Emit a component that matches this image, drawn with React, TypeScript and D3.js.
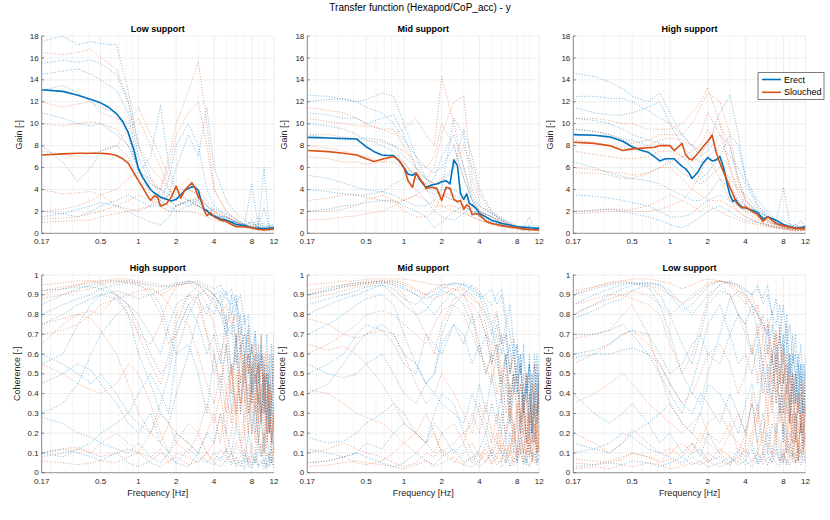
import * as d3 from 'd3';

// ---- frequency grids ----
const meanFreq = [0.17, 0.25, 0.33, 0.42, 0.5, 0.58, 0.67, 0.75, 0.83, 0.92, 1.0, 1.08, 1.17, 1.25, 1.33, 1.42, 1.5, 1.67, 1.83, 2.0,
    2.17, 2.33, 2.5, 2.67, 2.83, 3.0, 3.17, 3.33, 3.5, 3.75, 4.0, 4.5, 5.0, 5.5, 6.0, 7.0, 8.0, 9.0, 10.0, 12.0];
const gainFreq = [0.17, 0.25, 0.33, 0.42, 0.5, 0.67, 0.83, 1, 1.25, 1.5, 1.75, 2, 2.5, 3, 3.5, 4, 5, 6, 7, 8, 9, 10, 11, 12];
const cohFreq = [0.17, 0.25, 0.33, 0.42, 0.5, 0.67, 0.83, 1, 1.25, 1.5, 1.75, 2, 2.5, 3, 3.5, 4, 4.5, 5, 5.5, 6, 6.5, 7, 7.5, 8,
    8.5, 9, 9.5, 10, 10.5, 11, 11.5, 12];

const xTicks = [0.17, 0.5, 1, 2, 4, 8, 12];
const xMinor = [0.2, 0.3, 0.4, 0.6, 0.7, 0.8, 0.9, 3, 5, 6, 7, 9, 10];
const gainTicks = [0, 2, 4, 6, 8, 10, 12, 14, 16, 18];
const cohTicks = [0, 0.1, 0.2, 0.3, 0.4, 0.5, 0.6, 0.7, 0.8, 0.9, 1];

// ---- mean gain curves ----
const lowMeanErect = [13.1, 12.95, 12.6, 12.2, 11.9, 11.5, 10.9, 10.2, 9.2, 7.6, 5.9, 5.1, 4.5, 4.0, 3.7, 3.5, 3.3, 3.1, 2.95, 3.1,
    3.5, 3.9, 4.1, 4.25, 4.2, 3.9, 2.9, 2.2, 2.1, 1.7, 1.6, 1.3, 1.2, 1.0, 0.8, 0.7, 0.5, 0.45, 0.4, 0.5];
const lowMeanSlouched = [7.15, 7.25, 7.3, 7.3, 7.3, 7.25, 7.1, 6.8, 6.4, 5.5, 4.8, 4.2, 3.5, 3.0, 3.4, 3.3, 2.5, 2.7, 3.3, 4.3,
    3.2, 3.9, 4.3, 4.6, 4.1, 3.3, 3.0, 2.1, 1.6, 1.9, 1.5, 1.2, 1.1, 0.8, 0.6, 0.6, 0.5, 0.35, 0.3, 0.4];
const midMeanErect = [8.75, 8.7, 8.65, 8.6, 7.9, 7.45, 7.15, 7.1, 7.1, 6.6, 6.0, 5.4, 5.3, 5.5, 5.0, 4.5, 4.2, 4.4, 4.5, 4.7,
    4.8, 4.5, 6.7, 6.2, 3.6, 3.1, 3.6, 2.7, 2.6, 2.3, 1.8, 1.5, 1.2, 1.05, 0.9, 0.75, 0.6, 0.55, 0.5, 0.45];
const midMeanSlouched = [7.55, 7.45, 7.3, 7.15, 6.8, 6.55, 6.75, 6.9, 7.0, 6.6, 6.0, 4.8, 4.2, 5.5, 5.0, 4.6, 4.1, 4.2, 4.1, 3.0,
    4.2, 4.1, 3.1, 2.9, 3.0, 2.2, 2.6, 2.4, 1.7, 1.8, 1.7, 1.1, 0.9, 0.8, 0.7, 0.6, 0.5, 0.4, 0.35, 0.3];
const highMeanErect = [9.0, 8.95, 8.8, 8.4, 7.9, 7.6, 7.4, 7.0, 6.6, 6.8, 6.8, 6.8, 6.4, 6.1, 5.9, 5.5, 5.0, 5.6, 6.4, 6.9,
    6.6, 6.7, 7.0, 6.0, 4.7, 3.5, 2.9, 3.1, 2.7, 2.4, 2.3, 2.1, 1.9, 1.3, 1.5, 1.2, 0.8, 0.6, 0.45, 0.6];
const highMeanSlouched = [8.3, 8.2, 8.0, 7.55, 7.7, 7.75, 7.8, 7.85, 8.0, 8.0, 8.0, 7.55, 7.9, 8.2, 7.2, 6.8, 6.7, 7.3, 7.9, 8.4,
    8.95, 7.4, 6.4, 5.6, 4.9, 4.2, 3.6, 2.9, 2.6, 2.3, 2.4, 2.0, 1.7, 1.1, 1.5, 0.9, 0.7, 0.55, 0.45, 0.45];

// ---- individual gain traces (per subject) ----
const lowGainErect = [
    [17.5, 18, 17.2, 17.5, 17.3, 17.2, 13, 8, 5, 3.5, 3, 2.5, 2.8, 2.5, 2, 1.5, 1.2, 1.0, 0.8, 0.6, 0.9, 0.5, 0.7, 0.4],
    [15.5, 15.8, 15.6, 15.8, 15.5, 14.5, 12, 7, 4.5, 4, 3.5, 3.2, 4, 3.5, 2.5, 1.8, 1.3, 1.0, 0.7, 0.5, 0.4, 0.6, 0.3, 0.5],
    [14.5, 14.8, 15, 14.5, 14, 13, 11, 6, 3.5, 2.5, 2, 2.5, 3, 2.8, 2, 1.5, 1.5, 1.0, 0.6, 1.2, 0.5, 0.4, 0.8, 0.6],
    [13, 13.5, 12.8, 12, 11.5, 11, 9, 5.5, 7, 11.7, 6, 4, 3, 3.2, 2.5, 2, 1.2, 0.9, 0.7, 0.6, 1.5, 0.5, 0.3, 0.8],
    [11, 10.5, 10, 9.8, 10, 9, 8, 6, 4, 3, 5, 8, 10, 8, 4, 2.5, 1.6, 1.1, 0.8, 1, 0.6, 2.3, 0.5, 0.4],
    [8, 6.5, 4.7, 6, 7.5, 8, 7, 5, 4, 3, 2.5, 2, 2.5, 3, 2, 2.2, 1.8, 1.3, 0.8, 4.5, 0.6, 6, 0.5, 0.9],
    [2, 1.8, 1.5, 2, 2.5, 3, 3.5, 3, 2.5, 2.5, 3.5, 6, 9, 7, 11.5, 6, 3, 1.8, 1.2, 0.8, 0.6, 1, 0.5, 0.4],
    [1.5, 1.8, 2.2, 2.5, 2.8, 2.5, 2, 1.5, 1, 0.8, 1.5, 2.5, 3, 2.5, 2, 1.5, 1.5, 1.0, 0.6, 0.5, 0.8, 0.4, 0.6, 0.5],
];
const lowGainSlouched = [
    [16.5, 16.3, 16.5, 16.8, 16, 15, 12, 8, 6, 5, 4, 3.5, 3, 2.5, 2, 1.5, 1.2, 0.8, 0.6, 0.5, 0.4, 0.6, 0.3, 0.4],
    [12, 11.5, 11.8, 12, 11, 10.5, 10, 11.5, 9, 7, 5, 4, 4, 3.5, 2.5, 2, 1.5, 1, 0.7, 0.5, 0.4, 0.3, 0.5, 0.4],
    [10, 9.8, 10, 10.2, 10, 9.5, 8, 6, 4.5, 4, 6, 9, 11, 12, 8, 4, 2, 1.2, 0.8, 0.6, 0.5, 0.4, 0.3, 0.5],
    [7.5, 7.2, 7, 7.3, 7.5, 8, 9.5, 10.5, 8, 6, 4, 3, 2.5, 2.5, 2, 1.5, 1, 0.8, 0.5, 0.4, 0.3, 0.4, 0.3, 0.2],
    [4, 3.6, 3.7, 3.8, 3.5, 2.5, 2.2, 2, 2.5, 4, 7, 10, 13, 15.7, 10, 4, 2, 1.3, 0.8, 0.6, 0.5, 0.4, 0.4, 0.3],
    [2, 2.2, 2.5, 3, 3.5, 4, 5, 5.5, 5, 4, 3, 2.5, 3, 3, 2, 1.5, 1.0, 0.8, 0.6, 0.5, 0.6, 0.3, 0.4, 0.5],
    [1.3, 1.4, 1.5, 1.8, 2, 2.5, 3, 3.5, 3, 2.5, 2, 2, 2, 1.8, 1.5, 1.2, 1.0, 0.7, 0.5, 0.4, 0.5, 0.3, 0.3, 0.4],
    [1, 1.1, 1.2, 1.2, 1.5, 1.8, 2, 2.2, 2.5, 3, 3.5, 4, 5, 4, 3, 2, 1.5, 1, 0.7, 0.5, 0.4, 0.3, 0.5, 0.3],
];
const midGainErect = [
    [12.6, 12.5, 12.2, 12, 12.2, 12.8, 12.5, 10, 7, 5, 4, 3.5, 3, 2.5, 2, 1.5, 1.0, 0.8, 0.6, 0.5, 0.7, 0.4, 0.3, 0.5],
    [12, 12.2, 12.3, 12, 11.5, 11, 10, 8.5, 7, 6, 5.5, 6, 8, 5, 3, 2, 1.5, 1.2, 0.8, 0.6, 0.5, 1.5, 0.4, 0.6],
    [11, 10.8, 10.5, 10.5, 10, 10.5, 10.8, 9, 6, 4, 3.5, 4, 10.5, 9, 4, 2.5, 1.8, 1.2, 0.7, 0.5, 0.6, 0.4, 0.3, 0.5],
    [10, 9.8, 9.5, 9, 8.5, 8, 7.5, 6.5, 5, 4.5, 5, 7, 9, 6, 3, 2.5, 1.8, 1.3, 0.9, 0.6, 0.5, 0.4, 0.8, 0.6],
    [9, 8.7, 8.5, 8.6, 8.7, 8.5, 8, 7, 6, 5, 4.5, 4.5, 6, 9.5, 7, 4, 2, 1.4, 1, 0.7, 0.5, 0.6, 0.4, 0.3],
    [5.3, 5, 4.6, 4.2, 4, 3.8, 3.5, 3, 2.5, 2.5, 3, 4, 4, 3.5, 2.5, 2, 1.5, 1, 0.7, 0.5, 0.4, 0.6, 0.3, 0.4],
    [4, 3.8, 3.6, 3.5, 3.5, 3.8, 4.5, 5, 4, 3, 2, 1.5, 1.2, 1.8, 2.5, 1.5, 1.2, 0.8, 0.5, 0.6, 0.4, 0.3, 0.5, 0.4],
    [2, 2.2, 2.5, 2.6, 2.8, 3, 3, 2.5, 2, 1.5, 0.5, 1, 2, 2.5, 2, 1.8, 1.0, 0.7, 0.6, 0.5, 0.4, 0.8, 0.3, 0.2],
];
const midGainSlouched = [
    [11.5, 11.2, 11, 10.5, 10, 9.5, 9, 9.5, 10.5, 9, 8, 14.3, 10, 6, 3.5, 2, 1.5, 1, 0.7, 0.5, 0.4, 0.6, 0.3, 0.4],
    [10.5, 10.2, 10, 9.8, 9.8, 9.5, 9.5, 8, 6, 5, 6, 9, 12, 12.5, 5, 3, 1.8, 1.2, 0.8, 0.6, 0.5, 0.4, 0.3, 0.5],
    [9, 9, 8.8, 8.6, 8.5, 8.3, 8, 7.5, 6.5, 6, 7, 10, 8, 5, 3, 2, 1.2, 0.9, 0.6, 0.5, 0.4, 0.3, 0.4, 0.3],
    [8, 7.8, 7.5, 7.2, 7, 6.5, 6.5, 6, 5.5, 5, 4.5, 5, 6, 8, 6, 3.5, 2, 1.2, 0.8, 0.5, 0.4, 0.5, 0.3, 0.2],
    [7, 6.8, 6.5, 6.5, 6.3, 6.5, 7, 6.5, 5, 4.5, 4, 3.5, 3.5, 3, 2.5, 2, 1.5, 1, 0.7, 0.5, 0.4, 0.3, 0.3, 0.4],
    [3, 3.2, 3.5, 3.5, 3.3, 3, 2.8, 3, 3.5, 3, 2.5, 2.5, 2.5, 2, 1.5, 1.2, 0.9, 0.6, 0.5, 0.4, 0.3, 0.4, 0.3, 0.3],
    [2, 2, 2.2, 2.5, 3, 3.5, 3, 2, 1.5, 1.5, 2, 3.5, 3, 2.5, 2, 1.5, 1.0, 0.7, 0.5, 0.4, 0.3, 0.3, 0.4, 0.2],
    [1.2, 1.3, 1.5, 1.6, 1.8, 2, 2.5, 3, 3.5, 4, 3, 2.5, 2, 1.8, 1.5, 1.2, 0.8, 0.6, 0.5, 0.4, 0.3, 0.2, 0.3, 0.2],
];
const highGainErect = [
    [14.6, 14.3, 13.8, 13.2, 12.5, 12, 12.8, 11, 9, 8, 7, 7.5, 9, 8, 5, 3, 2, 1.5, 1, 0.7, 0.5, 0.8, 0.5, 0.6],
    [12.5, 12.5, 12.3, 12.3, 12, 11.2, 10.5, 10, 9, 8, 7.5, 8, 11, 12.6, 9, 5, 2.5, 1.5, 1, 1.2, 0.8, 0.6, 0.5, 0.7],
    [11.5, 11, 10.8, 10.8, 11, 11.5, 12, 10, 8, 7, 6.5, 7, 8, 7, 6, 4.5, 2.5, 1.7, 1.1, 0.8, 0.6, 0.5, 1.2, 0.6],
    [10.5, 10.3, 10, 9.5, 9, 8.5, 8.2, 8, 7, 6, 5, 5.5, 7, 9, 8, 5, 3, 2, 1.2, 0.8, 0.7, 0.5, 0.6, 0.4],
    [9.5, 9.3, 9, 8.6, 8.5, 8, 7, 6.5, 5.5, 5, 4.5, 5, 6, 5, 4, 3.5, 2.2, 1.5, 1, 4.2, 0.8, 0.6, 0.5, 0.5],
    [6.5, 6, 5.5, 5.2, 5, 4.8, 4.5, 4, 3.5, 3, 3, 3.5, 5, 4, 3, 2.5, 2, 1.5, 1.0, 0.7, 0.5, 0.8, 0.4, 0.5],
    [3.5, 3.4, 3.2, 3, 2.8, 2.5, 2, 1.5, 1.5, 1.8, 2.5, 3, 3.5, 3, 2.5, 2, 1.8, 1.2, 0.8, 0.6, 0.7, 0.5, 0.4, 0.6],
    [2, 2.1, 2.2, 2, 1.8, 1.5, 1.2, 0.8, 0.5, 1, 1.5, 2, 2.5, 2, 1.5, 1.2, 1, 0.8, 0.6, 0.5, 0.4, 0.5, 0.3, 0.4],
];
const highGainSlouched = [
    [10.5, 10.5, 10.3, 10, 10, 9.5, 9.5, 9.5, 10, 11, 12, 13.3, 10, 6, 3.5, 2.5, 1.5, 1, 0.8, 0.6, 0.5, 0.4, 0.3, 0.4],
    [9.5, 9.3, 9, 8.5, 8.2, 8.5, 9, 9, 9, 10, 11.5, 12.8, 12, 9, 5, 3, 1.8, 1.2, 0.8, 0.6, 0.5, 0.4, 0.5, 0.3],
    [8.5, 8.3, 8, 7.8, 7.6, 8, 8.5, 8.7, 8.5, 8, 9, 11, 9, 6, 4, 2.5, 1.5, 1, 0.7, 0.5, 0.4, 0.6, 0.3, 0.4],
    [7.5, 7.2, 7, 6.8, 6.8, 7, 7.5, 7.5, 7, 6.5, 7, 8.5, 10, 8, 4.5, 3, 1.8, 1.2, 0.8, 0.6, 0.4, 0.3, 0.4, 0.3],
    [6, 5.8, 5.6, 5.5, 5.3, 5.5, 6, 6.5, 7, 7.5, 8, 9.5, 7, 4.5, 3, 2, 1.2, 0.8, 0.6, 0.5, 0.4, 0.3, 0.3, 0.2],
    [5.5, 5.5, 5.3, 5, 5, 5.5, 6, 6, 5, 4, 3.5, 3, 3, 2.5, 2, 1.5, 1.0, 0.7, 0.5, 0.4, 0.3, 0.3, 0.4, 0.3],
    [2, 2.1, 2.2, 2.2, 2, 2, 2.2, 2.5, 3, 4, 5.5, 7, 5, 3, 2, 1.5, 1.0, 0.7, 0.5, 0.4, 0.3, 0.3, 0.2, 0.3],
    [1.8, 1.9, 2, 2, 2.2, 2.5, 3, 3.5, 3, 2.5, 2, 2.5, 2, 1.5, 1.2, 1, 0.8, 0.6, 0.5, 0.4, 0.3, 0.2, 0.3, 0.2],
];

// ---- individual coherence traces ----
const highCohErect = [
    [0.85, 0.9, 0.93, 0.95, 0.96, 0.97, 0.97, 0.96, 0.95, 0.94, 0.95, 0.96, 0.97, 0.95, 0.93, 0.9, 0.92, 0.88, 0.85, 0.9, 0.7, 0.8, 0.5, 0.65, 0.4, 0.55, 0.3, 0.5, 0.25, 0.6, 0.3, 0.45],
    [0.8, 0.85, 0.88, 0.9, 0.93, 0.95, 0.96, 0.95, 0.92, 0.85, 0.7, 0.6, 0.8, 0.9, 0.93, 0.9, 0.85, 0.92, 0.8, 0.88, 0.75, 0.6, 0.72, 0.45, 0.6, 0.35, 0.7, 0.3, 0.55, 0.2, 0.4, 0.15],
    [0.55, 0.6, 0.75, 0.85, 0.9, 0.88, 0.8, 0.6, 0.45, 0.3, 0.25, 0.4, 0.6, 0.8, 0.85, 0.8, 0.9, 0.75, 0.7, 0.85, 0.6, 0.7, 0.65, 0.4, 0.55, 0.6, 0.3, 0.45, 0.5, 0.2, 0.35, 0.7],
    [0.6, 0.55, 0.5, 0.45, 0.5, 0.4, 0.3, 0.25, 0.2, 0.35, 0.5, 0.7, 0.85, 0.75, 0.6, 0.7, 0.55, 0.8, 0.5, 0.65, 0.3, 0.5, 0.4, 0.2, 0.35, 0.15, 0.3, 0.1, 0.25, 0.05, 0.2, 0.1],
    [0.45, 0.5, 0.55, 0.52, 0.45, 0.35, 0.25, 0.2, 0.3, 0.15, 0.1, 0.2, 0.15, 0.1, 0.2, 0.15, 0.3, 0.2, 0.1, 0.25, 0.15, 0.05, 0.2, 0.1, 0.05, 0.15, 0.08, 0.2, 0.03, 0.1, 0.05, 0.12],
    [0.28, 0.25, 0.2, 0.18, 0.15, 0.12, 0.1, 0.15, 0.08, 0.05, 0.1, 0.05, 0.12, 0.08, 0.05, 0.1, 0.06, 0.12, 0.04, 0.08, 0.03, 0.1, 0.05, 0.02, 0.08, 0.04, 0.06, 0.02, 0.05, 0.03, 0.06, 0.02],
    [0.1, 0.12, 0.1, 0.08, 0.06, 0.1, 0.05, 0.03, 0.06, 0.1, 0.08, 0.05, 0.03, 0.1, 0.06, 0.04, 0.08, 0.05, 0.1, 0.03, 0.06, 0.02, 0.08, 0.04, 0.1, 0.03, 0.05, 0.07, 0.02, 0.04, 0.08, 0.03],
    [0.92, 0.93, 0.94, 0.94, 0.93, 0.9, 0.85, 0.75, 0.6, 0.5, 0.55, 0.75, 0.9, 0.95, 0.9, 0.85, 0.8, 0.7, 0.75, 0.55, 0.65, 0.5, 0.6, 0.35, 0.5, 0.4, 0.25, 0.45, 0.3, 0.35, 0.15, 0.3],
    [0.75, 0.8, 0.85, 0.88, 0.9, 0.92, 0.9, 0.88, 0.9, 0.92, 0.94, 0.95, 0.96, 0.97, 0.95, 0.93, 0.95, 0.9, 0.93, 0.85, 0.9, 0.75, 0.8, 0.6, 0.72, 0.5, 0.65, 0.45, 0.7, 0.35, 0.55, 0.6],
    [0.3, 0.35, 0.45, 0.6, 0.7, 0.8, 0.85, 0.8, 0.7, 0.6, 0.75, 0.85, 0.9, 0.88, 0.8, 0.9, 0.85, 0.7, 0.9, 0.65, 0.8, 0.55, 0.75, 0.5, 0.7, 0.45, 0.6, 0.55, 0.35, 0.5, 0.65, 0.25],
    [0.1, 0.08, 0.12, 0.15, 0.2, 0.25, 0.3, 0.4, 0.5, 0.4, 0.3, 0.6, 0.65, 0.5, 0.3, 0.6, 0.4, 0.65, 0.3, 0.7, 0.45, 0.6, 0.3, 0.55, 0.2, 0.45, 0.6, 0.3, 0.5, 0.2, 0.4, 0.55],
];
const highCohSlouched = [
    [0.9, 0.93, 0.95, 0.96, 0.97, 0.98, 0.98, 0.97, 0.96, 0.95, 0.94, 0.95, 0.96, 0.92, 0.85, 0.75, 0.6, 0.7, 0.5, 0.6, 0.35, 0.55, 0.3, 0.45, 0.6, 0.25, 0.4, 0.5, 0.2, 0.35, 0.15, 0.3],
    [0.92, 0.94, 0.95, 0.97, 0.97, 0.97, 0.96, 0.95, 0.9, 0.8, 0.65, 0.7, 0.85, 0.9, 0.7, 0.5, 0.6, 0.4, 0.55, 0.3, 0.5, 0.2, 0.45, 0.35, 0.15, 0.4, 0.25, 0.1, 0.35, 0.2, 0.3, 0.1],
    [0.65, 0.75, 0.8, 0.82, 0.8, 0.9, 0.85, 0.7, 0.55, 0.45, 0.6, 0.8, 0.9, 0.85, 0.7, 0.6, 0.45, 0.65, 0.4, 0.7, 0.3, 0.55, 0.6, 0.35, 0.5, 0.3, 0.45, 0.2, 0.4, 0.5, 0.25, 0.35],
    [0.75, 0.78, 0.8, 0.78, 0.72, 0.6, 0.45, 0.3, 0.2, 0.15, 0.25, 0.2, 0.15, 0.1, 0.2, 0.3, 0.15, 0.4, 0.25, 0.5, 0.35, 0.6, 0.2, 0.45, 0.3, 0.55, 0.25, 0.4, 0.15, 0.3, 0.2, 0.25],
    [0.55, 0.5, 0.45, 0.42, 0.4, 0.45, 0.55, 0.5, 0.35, 0.2, 0.1, 0.15, 0.25, 0.2, 0.1, 0.15, 0.3, 0.1, 0.2, 0.4, 0.15, 0.3, 0.55, 0.2, 0.4, 0.15, 0.35, 0.6, 0.25, 0.45, 0.1, 0.3],
    [0.1, 0.12, 0.13, 0.1, 0.08, 0.1, 0.12, 0.1, 0.08, 0.12, 0.05, 0.1, 0.08, 0.05, 0.1, 0.06, 0.12, 0.08, 0.05, 0.15, 0.1, 0.2, 0.05, 0.15, 0.1, 0.25, 0.08, 0.2, 0.12, 0.3, 0.05, 0.15],
    [0.06, 0.05, 0.04, 0.05, 0.06, 0.05, 0.08, 0.1, 0.05, 0.03, 0.06, 0.08, 0.04, 0.06, 0.1, 0.05, 0.03, 0.07, 0.1, 0.04, 0.08, 0.12, 0.03, 0.09, 0.05, 0.1, 0.15, 0.04, 0.1, 0.06, 0.12, 0.05],
    [0.95, 0.96, 0.97, 0.97, 0.96, 0.9, 0.8, 0.7, 0.65, 0.75, 0.88, 0.94, 0.96, 0.95, 0.9, 0.88, 0.8, 0.85, 0.75, 0.8, 0.65, 0.7, 0.5, 0.65, 0.45, 0.55, 0.7, 0.3, 0.5, 0.4, 0.2, 0.35],
    [0.88, 0.9, 0.92, 0.93, 0.95, 0.96, 0.97, 0.96, 0.94, 0.9, 0.92, 0.95, 0.97, 0.96, 0.94, 0.9, 0.85, 0.75, 0.8, 0.65, 0.7, 0.45, 0.6, 0.5, 0.65, 0.35, 0.55, 0.4, 0.6, 0.3, 0.45, 0.5],
    [0.7, 0.72, 0.75, 0.8, 0.85, 0.88, 0.9, 0.92, 0.93, 0.9, 0.85, 0.8, 0.75, 0.6, 0.45, 0.35, 0.5, 0.3, 0.55, 0.25, 0.6, 0.4, 0.2, 0.5, 0.35, 0.65, 0.3, 0.55, 0.2, 0.45, 0.35, 0.6],
    [0.08, 0.1, 0.12, 0.1, 0.15, 0.2, 0.15, 0.1, 0.2, 0.3, 0.25, 0.15, 0.1, 0.2, 0.35, 0.25, 0.4, 0.2, 0.5, 0.3, 0.65, 0.35, 0.7, 0.4, 0.55, 0.25, 0.6, 0.35, 0.5, 0.3, 0.6, 0.4],
];
const midCohErect = [
    [0.9, 0.93, 0.95, 0.96, 0.96, 0.96, 0.95, 0.93, 0.9, 0.88, 0.9, 0.93, 0.96, 0.95, 0.93, 0.9, 0.88, 0.85, 0.9, 0.93, 0.8, 0.7, 0.6, 0.65, 0.5, 0.6, 0.4, 0.55, 0.3, 0.45, 0.6, 0.35],
    [0.8, 0.85, 0.88, 0.9, 0.92, 0.95, 0.9, 0.85, 0.8, 0.82, 0.88, 0.92, 0.9, 0.85, 0.75, 0.8, 0.7, 0.65, 0.75, 0.6, 0.7, 0.5, 0.6, 0.45, 0.55, 0.3, 0.5, 0.4, 0.2, 0.55, 0.3, 0.4],
    [0.5, 0.55, 0.6, 0.7, 0.75, 0.72, 0.65, 0.55, 0.5, 0.7, 0.65, 0.6, 0.75, 0.65, 0.8, 0.6, 0.7, 0.55, 0.65, 0.4, 0.6, 0.3, 0.5, 0.65, 0.25, 0.45, 0.35, 0.6, 0.2, 0.4, 0.3, 0.5],
    [0.55, 0.5, 0.48, 0.5, 0.55, 0.6, 0.5, 0.4, 0.35, 0.45, 0.4, 0.35, 0.3, 0.25, 0.4, 0.3, 0.2, 0.35, 0.25, 0.4, 0.15, 0.3, 0.25, 0.1, 0.3, 0.2, 0.05, 0.25, 0.15, 0.3, 0.1, 0.2],
    [0.18, 0.15, 0.16, 0.2, 0.25, 0.3, 0.35, 0.3, 0.2, 0.15, 0.25, 0.2, 0.1, 0.15, 0.05, 0.12, 0.2, 0.08, 0.15, 0.1, 0.05, 0.2, 0.12, 0.06, 0.18, 0.1, 0.04, 0.15, 0.08, 0.2, 0.05, 0.1],
    [0.05, 0.06, 0.08, 0.1, 0.08, 0.05, 0.03, 0.05, 0.1, 0.06, 0.04, 0.08, 0.12, 0.05, 0.08, 0.03, 0.06, 0.1, 0.04, 0.07, 0.12, 0.03, 0.08, 0.05, 0.1, 0.04, 0.07, 0.03, 0.06, 0.1, 0.04, 0.08],
    [0.7, 0.75, 0.8, 0.85, 0.88, 0.9, 0.85, 0.7, 0.55, 0.45, 0.5, 0.7, 0.85, 0.9, 0.95, 0.92, 0.85, 0.75, 0.6, 0.7, 0.55, 0.65, 0.4, 0.55, 0.6, 0.35, 0.5, 0.25, 0.45, 0.3, 0.55, 0.2],
    [0.9, 0.92, 0.94, 0.95, 0.96, 0.97, 0.96, 0.94, 0.9, 0.85, 0.8, 0.85, 0.92, 0.96, 0.94, 0.9, 0.8, 0.7, 0.8, 0.65, 0.75, 0.5, 0.68, 0.4, 0.6, 0.3, 0.45, 0.55, 0.2, 0.4, 0.5, 0.3],
    [0.85, 0.88, 0.9, 0.92, 0.94, 0.95, 0.93, 0.88, 0.85, 0.9, 0.93, 0.95, 0.96, 0.95, 0.92, 0.88, 0.9, 0.93, 0.85, 0.9, 0.75, 0.85, 0.65, 0.6, 0.5, 0.65, 0.4, 0.55, 0.45, 0.6, 0.35, 0.5],
    [0.4, 0.45, 0.55, 0.65, 0.7, 0.75, 0.7, 0.6, 0.55, 0.45, 0.5, 0.65, 0.75, 0.7, 0.55, 0.65, 0.5, 0.6, 0.55, 0.45, 0.6, 0.35, 0.5, 0.4, 0.55, 0.3, 0.45, 0.2, 0.5, 0.35, 0.25, 0.6],
    [0.12, 0.1, 0.08, 0.1, 0.15, 0.12, 0.2, 0.25, 0.2, 0.15, 0.3, 0.4, 0.35, 0.2, 0.25, 0.45, 0.3, 0.5, 0.35, 0.2, 0.45, 0.25, 0.4, 0.5, 0.2, 0.35, 0.15, 0.4, 0.25, 0.3, 0.45, 0.2],
];
const midCohSlouched = [
    [0.95, 0.96, 0.97, 0.97, 0.98, 0.98, 0.98, 0.98, 0.97, 0.96, 0.95, 0.95, 0.95, 0.93, 0.9, 0.85, 0.75, 0.6, 0.7, 0.5, 0.6, 0.4, 0.5, 0.3, 0.45, 0.2, 0.35, 0.5, 0.15, 0.3, 0.2, 0.35],
    [0.92, 0.94, 0.95, 0.96, 0.97, 0.97, 0.95, 0.9, 0.8, 0.7, 0.6, 0.75, 0.88, 0.9, 0.8, 0.65, 0.5, 0.6, 0.4, 0.5, 0.3, 0.45, 0.2, 0.35, 0.25, 0.4, 0.1, 0.3, 0.2, 0.35, 0.1, 0.25],
    [0.78, 0.75, 0.7, 0.68, 0.7, 0.72, 0.7, 0.6, 0.45, 0.35, 0.4, 0.5, 0.4, 0.3, 0.2, 0.35, 0.25, 0.15, 0.3, 0.1, 0.2, 0.35, 0.15, 0.25, 0.1, 0.3, 0.15, 0.2, 0.05, 0.25, 0.1, 0.15],
    [0.65, 0.62, 0.64, 0.6, 0.55, 0.45, 0.35, 0.25, 0.2, 0.3, 0.2, 0.1, 0.15, 0.2, 0.1, 0.05, 0.15, 0.1, 0.2, 0.05, 0.15, 0.1, 0.25, 0.05, 0.2, 0.1, 0.3, 0.08, 0.15, 0.25, 0.05, 0.2],
    [0.42, 0.4, 0.35, 0.3, 0.28, 0.25, 0.2, 0.15, 0.1, 0.15, 0.2, 0.1, 0.05, 0.1, 0.15, 0.08, 0.12, 0.05, 0.1, 0.2, 0.08, 0.15, 0.05, 0.12, 0.3, 0.1, 0.2, 0.08, 0.25, 0.15, 0.35, 0.1],
    [0.1, 0.12, 0.15, 0.12, 0.1, 0.08, 0.05, 0.03, 0.05, 0.1, 0.08, 0.12, 0.06, 0.04, 0.08, 0.1, 0.05, 0.12, 0.07, 0.15, 0.05, 0.1, 0.2, 0.08, 0.15, 0.05, 0.12, 0.2, 0.1, 0.05, 0.15, 0.1],
    [0.03, 0.04, 0.05, 0.06, 0.05, 0.04, 0.03, 0.02, 0.04, 0.06, 0.03, 0.05, 0.08, 0.04, 0.03, 0.06, 0.1, 0.04, 0.08, 0.03, 0.06, 0.1, 0.04, 0.07, 0.12, 0.05, 0.1, 0.15, 0.06, 0.12, 0.2, 0.08],
    [0.88, 0.9, 0.92, 0.94, 0.95, 0.96, 0.97, 0.96, 0.93, 0.9, 0.88, 0.9, 0.93, 0.92, 0.88, 0.85, 0.8, 0.75, 0.82, 0.65, 0.7, 0.5, 0.6, 0.45, 0.3, 0.5, 0.35, 0.25, 0.45, 0.15, 0.3, 0.4],
    [0.9, 0.92, 0.94, 0.95, 0.96, 0.97, 0.97, 0.95, 0.92, 0.9, 0.92, 0.94, 0.93, 0.9, 0.85, 0.8, 0.7, 0.55, 0.65, 0.45, 0.55, 0.35, 0.5, 0.25, 0.45, 0.3, 0.2, 0.4, 0.25, 0.35, 0.15, 0.45],
    [0.6, 0.65, 0.7, 0.75, 0.8, 0.82, 0.8, 0.75, 0.7, 0.65, 0.75, 0.82, 0.85, 0.8, 0.7, 0.6, 0.55, 0.45, 0.6, 0.35, 0.5, 0.25, 0.45, 0.55, 0.2, 0.35, 0.5, 0.15, 0.4, 0.55, 0.25, 0.45],
    [0.05, 0.06, 0.08, 0.05, 0.04, 0.06, 0.1, 0.15, 0.2, 0.15, 0.1, 0.2, 0.25, 0.15, 0.3, 0.2, 0.35, 0.2, 0.15, 0.3, 0.2, 0.35, 0.1, 0.3, 0.2, 0.4, 0.15, 0.35, 0.25, 0.45, 0.2, 0.55],
];
const lowCohErect = [
    [0.85, 0.9, 0.93, 0.95, 0.96, 0.96, 0.95, 0.9, 0.82, 0.85, 0.9, 0.94, 0.97, 0.96, 0.94, 0.92, 0.9, 0.93, 0.88, 0.95, 0.8, 0.75, 0.85, 0.6, 0.8, 0.5, 0.7, 0.4, 0.6, 0.3, 0.55, 0.45],
    [0.78, 0.82, 0.86, 0.88, 0.92, 0.95, 0.9, 0.8, 0.65, 0.55, 0.7, 0.85, 0.92, 0.9, 0.8, 0.75, 0.85, 0.7, 0.8, 0.6, 0.75, 0.5, 0.7, 0.45, 0.65, 0.35, 0.55, 0.6, 0.3, 0.5, 0.4, 0.55],
    [0.7, 0.7, 0.72, 0.75, 0.7, 0.6, 0.5, 0.4, 0.3, 0.45, 0.6, 0.75, 0.85, 0.7, 0.55, 0.6, 0.5, 0.65, 0.4, 0.55, 0.35, 0.6, 0.3, 0.5, 0.55, 0.25, 0.45, 0.35, 0.5, 0.2, 0.4, 0.3],
    [0.58, 0.6, 0.6, 0.62, 0.63, 0.6, 0.55, 0.45, 0.35, 0.3, 0.4, 0.35, 0.25, 0.4, 0.3, 0.2, 0.35, 0.15, 0.3, 0.1, 0.25, 0.2, 0.4, 0.15, 0.35, 0.25, 0.5, 0.2, 0.4, 0.3, 0.15, 0.35],
    [0.4, 0.3, 0.25, 0.3, 0.35, 0.25, 0.15, 0.2, 0.1, 0.15, 0.08, 0.2, 0.1, 0.05, 0.12, 0.08, 0.15, 0.05, 0.1, 0.2, 0.08, 0.15, 0.05, 0.25, 0.1, 0.2, 0.15, 0.3, 0.1, 0.25, 0.12, 0.2],
    [0.1, 0.12, 0.15, 0.2, 0.18, 0.12, 0.1, 0.08, 0.05, 0.1, 0.12, 0.06, 0.08, 0.04, 0.1, 0.06, 0.12, 0.04, 0.08, 0.1, 0.05, 0.12, 0.06, 0.1, 0.04, 0.15, 0.08, 0.1, 0.06, 0.12, 0.05, 0.08],
    [0.03, 0.04, 0.05, 0.04, 0.06, 0.05, 0.03, 0.05, 0.08, 0.04, 0.06, 0.03, 0.05, 0.08, 0.04, 0.06, 0.03, 0.07, 0.1, 0.04, 0.08, 0.05, 0.03, 0.09, 0.06, 0.04, 0.1, 0.05, 0.08, 0.04, 0.1, 0.06],
    [0.9, 0.93, 0.95, 0.96, 0.96, 0.94, 0.85, 0.7, 0.5, 0.4, 0.35, 0.5, 0.7, 0.88, 0.92, 0.9, 0.85, 0.8, 0.75, 0.7, 0.82, 0.6, 0.7, 0.55, 0.75, 0.45, 0.6, 0.5, 0.35, 0.55, 0.25, 0.45],
    [0.8, 0.85, 0.9, 0.93, 0.95, 0.96, 0.95, 0.92, 0.85, 0.8, 0.85, 0.9, 0.95, 0.97, 0.95, 0.93, 0.9, 0.95, 0.85, 0.9, 0.8, 0.88, 0.7, 0.85, 0.65, 0.75, 0.55, 0.7, 0.5, 0.65, 0.45, 0.6],
    [0.6, 0.62, 0.65, 0.7, 0.72, 0.7, 0.6, 0.5, 0.55, 0.65, 0.7, 0.6, 0.55, 0.7, 0.8, 0.75, 0.6, 0.7, 0.55, 0.75, 0.45, 0.65, 0.5, 0.7, 0.4, 0.6, 0.5, 0.35, 0.55, 0.45, 0.3, 0.5],
    [0.15, 0.12, 0.1, 0.15, 0.2, 0.25, 0.3, 0.35, 0.25, 0.2, 0.3, 0.45, 0.4, 0.3, 0.2, 0.35, 0.45, 0.3, 0.55, 0.4, 0.6, 0.35, 0.5, 0.3, 0.45, 0.6, 0.35, 0.5, 0.4, 0.55, 0.3, 0.45],
];
const lowCohSlouched = [
    [0.9, 0.94, 0.96, 0.97, 0.98, 0.98, 0.97, 0.96, 0.93, 0.95, 0.97, 0.98, 0.97, 0.96, 0.95, 0.9, 0.85, 0.8, 0.75, 0.7, 0.55, 0.72, 0.45, 0.6, 0.3, 0.5, 0.2, 0.4, 0.1, 0.3, 0.2, 0.35],
    [0.85, 0.88, 0.9, 0.9, 0.88, 0.85, 0.8, 0.65, 0.5, 0.6, 0.75, 0.88, 0.95, 0.9, 0.8, 0.7, 0.6, 0.75, 0.5, 0.65, 0.4, 0.6, 0.3, 0.5, 0.2, 0.4, 0.15, 0.3, 0.05, 0.25, 0.15, 0.4],
    [0.35, 0.4, 0.45, 0.5, 0.45, 0.35, 0.3, 0.25, 0.2, 0.25, 0.3, 0.2, 0.15, 0.25, 0.1, 0.2, 0.15, 0.3, 0.1, 0.25, 0.4, 0.15, 0.35, 0.2, 0.1, 0.3, 0.05, 0.2, 0.15, 0.25, 0.1, 0.3],
    [0.68, 0.7, 0.72, 0.8, 0.85, 0.7, 0.5, 0.35, 0.25, 0.2, 0.15, 0.25, 0.3, 0.2, 0.15, 0.1, 0.2, 0.35, 0.15, 0.5, 0.3, 0.6, 0.25, 0.4, 0.15, 0.35, 0.1, 0.2, 0.08, 0.3, 0.15, 0.2],
    [0.2, 0.15, 0.1, 0.15, 0.22, 0.15, 0.1, 0.12, 0.08, 0.15, 0.1, 0.05, 0.12, 0.08, 0.05, 0.15, 0.4, 0.1, 0.2, 0.3, 0.1, 0.25, 0.15, 0.05, 0.2, 0.1, 0.3, 0.05, 0.15, 0.1, 0.25, 0.08],
    [0.07, 0.06, 0.05, 0.07, 0.1, 0.08, 0.05, 0.07, 0.04, 0.08, 0.05, 0.1, 0.06, 0.04, 0.08, 0.12, 0.05, 0.1, 0.06, 0.15, 0.08, 0.2, 0.1, 0.05, 0.15, 0.08, 0.12, 0.2, 0.06, 0.15, 0.1, 0.18],
    [0.02, 0.03, 0.02, 0.04, 0.03, 0.05, 0.04, 0.02, 0.03, 0.05, 0.04, 0.06, 0.03, 0.05, 0.08, 0.04, 0.06, 0.1, 0.04, 0.08, 0.05, 0.1, 0.06, 0.12, 0.04, 0.08, 0.1, 0.05, 0.12, 0.07, 0.15, 0.05],
    [0.92, 0.94, 0.96, 0.97, 0.96, 0.95, 0.93, 0.9, 0.86, 0.88, 0.92, 0.95, 0.97, 0.96, 0.92, 0.88, 0.8, 0.85, 0.72, 0.78, 0.6, 0.7, 0.45, 0.65, 0.35, 0.55, 0.25, 0.5, 0.2, 0.4, 0.3, 0.15],
    [0.8, 0.85, 0.88, 0.9, 0.92, 0.9, 0.85, 0.8, 0.85, 0.9, 0.93, 0.96, 0.97, 0.95, 0.9, 0.85, 0.9, 0.8, 0.7, 0.75, 0.6, 0.7, 0.65, 0.45, 0.6, 0.35, 0.5, 0.4, 0.3, 0.45, 0.2, 0.35],
    [0.55, 0.6, 0.65, 0.7, 0.72, 0.65, 0.55, 0.45, 0.35, 0.4, 0.5, 0.6, 0.65, 0.55, 0.4, 0.5, 0.65, 0.45, 0.7, 0.5, 0.6, 0.4, 0.75, 0.3, 0.55, 0.25, 0.45, 0.15, 0.4, 0.2, 0.35, 0.5],
    [0.05, 0.04, 0.06, 0.08, 0.1, 0.08, 0.06, 0.1, 0.15, 0.1, 0.2, 0.15, 0.1, 0.2, 0.3, 0.2, 0.35, 0.25, 0.5, 0.3, 0.6, 0.35, 0.55, 0.2, 0.45, 0.3, 0.5, 0.15, 0.35, 0.25, 0.45, 0.3],
];

const BLUE = '#0072BD';
const ORANGE = '#D95319';
const FONT = '"Liberation Sans", Arial, Helvetica, sans-serif';
const W = 830;
const H = 520;

interface PanelDef {
    title: string;
    x0: number; x1: number; y0: number; y1: number;
    kind: 'gain' | 'coh';
    erect: number[][];
    slouched: number[][];
    meanE?: number[];
    meanS?: number[];
    xlabel: boolean;
    legend?: boolean;
}

const TOP = { y0: 36, y1: 233.3 };
const BOT = { y0: 275, y1: 472.7 };

const panels: PanelDef[] = [
    { title: 'Low support', x0: 41.7, x1: 274, ...TOP, kind: 'gain', erect: lowGainErect, slouched: lowGainSlouched, meanE: lowMeanErect, meanS: lowMeanSlouched, xlabel: false },
    { title: 'Mid support', x0: 307.3, x1: 539.3, ...TOP, kind: 'gain', erect: midGainErect, slouched: midGainSlouched, meanE: midMeanErect, meanS: midMeanSlouched, xlabel: false },
    { title: 'High support', x0: 573.3, x1: 805.5, ...TOP, kind: 'gain', erect: highGainErect, slouched: highGainSlouched, meanE: highMeanErect, meanS: highMeanSlouched, xlabel: false, legend: true },
    { title: 'High support', x0: 41.7, x1: 274, ...BOT, kind: 'coh', erect: highCohErect, slouched: highCohSlouched, xlabel: true },
    { title: 'Mid support', x0: 307.3, x1: 539.3, ...BOT, kind: 'coh', erect: midCohErect, slouched: midCohSlouched, xlabel: true },
    { title: 'Low support', x0: 573.3, x1: 805.5, ...BOT, kind: 'coh', erect: lowCohErect, slouched: lowCohSlouched, xlabel: true },
];

function Panel({ p, idx }: { p: PanelDef; idx: number }) {
    const x = d3.scaleLog().domain([0.17, 12]).range([p.x0, p.x1]);
    const y = d3.scaleLinear().domain(p.kind === 'gain' ? [0, 18] : [0, 1]).range([p.y1, p.y0]);
    const freqs = p.kind === 'gain' ? gainFreq : cohFreq;
    const yTicks = p.kind === 'gain' ? gainTicks : cohTicks;
    const line = d3.line<number>().x((_, i) => x(freqs[i])).y(v => y(v));
    const meanLine = d3.line<number>().x((_, i) => x(meanFreq[i])).y(v => y(v));
    const clipId = `clip${idx}`;
    const ylab = p.kind === 'gain' ? 'Gain [-]' : 'Coherence [-]';
    const ylabX = p.kind === 'gain' ? p.x0 - 20 : p.x0 - 22;
    const midY = (p.y0 + p.y1) / 2;

    // subject by subject, erect then slouched
    const traces: { vals: number[]; color: string }[] = [];
    p.erect.forEach((v, i) => {
        traces.push({ vals: v, color: BLUE });
        if (p.slouched[i]) traces.push({ vals: p.slouched[i], color: ORANGE });
    });

    return (
        <g>
            <defs>
                <clipPath id={clipId}>
                    <rect x={p.x0} y={p.y0 - 1} width={p.x1 - p.x0} height={p.y1 - p.y0 + 1} />
                </clipPath>
            </defs>
            {/* grid */}
            {yTicks.map(t => (
                <line key={'gy' + t} x1={p.x0} x2={p.x1} y1={y(t)} y2={y(t)} stroke="#e6e6e6" strokeWidth={0.7} />
            ))}
            {xMinor.map(t => (
                <line key={'gm' + t} x1={x(t)} x2={x(t)} y1={p.y0} y2={p.y1} stroke="#d8d8d8" strokeWidth={0.6} strokeDasharray="1,1.5" />
            ))}
            {xTicks.map(t => (
                <line key={'gx' + t} x1={x(t)} x2={x(t)} y1={p.y0} y2={p.y1} stroke="#e6e6e6" strokeWidth={0.7} />
            ))}
            <g clipPath={`url(#${clipId})`}>
                {traces.map((t, i) => (
                    <path key={'t' + i} d={line(t.vals) ?? ''} fill="none" stroke={t.color} strokeWidth={0.9}
                        strokeDasharray="0.9,1.8" opacity={0.62} />
                ))}
                {p.meanE && (
                    <path d={meanLine(p.meanE) ?? ''} fill="none" stroke={BLUE} strokeWidth={1.6} strokeLinejoin="round" />
                )}
                {p.meanS && (
                    <path d={meanLine(p.meanS) ?? ''} fill="none" stroke={ORANGE} strokeWidth={1.6} strokeLinejoin="round" />
                )}
            </g>
            {/* axes */}
            <line x1={p.x0} x2={p.x1} y1={p.y1} y2={p.y1} stroke="#a6a6a6" strokeWidth={1.2} />
            <line x1={p.x0} x2={p.x0} y1={p.y0} y2={p.y1} stroke="#8c8c8c" strokeWidth={1} />
            {yTicks.map(t => (
                <g key={'yt' + t}>
                    <line x1={p.x0} x2={p.x0 + 2.5} y1={y(t)} y2={y(t)} stroke="#404040" strokeWidth={0.6} />
                    <text x={p.x0 - 3} y={y(t)} dy="0.33em" textAnchor="end" fontSize={8} fill="#262626">{String(t)}</text>
                </g>
            ))}
            {xTicks.map(t => (
                <text key={'xt' + t} x={x(t)} y={p.y1 + 11} textAnchor="middle" fontSize={8} fill="#262626">{String(t)}</text>
            ))}
            <text x={(p.x0 + p.x1) / 2} y={p.y0 - 4} textAnchor="middle" fontSize={9} fontWeight="bold" fill="#000">{p.title}</text>
            <text transform={`translate(${ylabX},${midY}) rotate(-90)`} textAnchor="middle" fontSize={9} fill="#262626">{ylab}</text>
            {p.xlabel && (
                <text x={(p.x0 + p.x1) / 2} y={p.y1 + 23} textAnchor="middle" fontSize={9} fill="#262626">Frequency [Hz]</text>
            )}
            {p.legend && (
                <g>
                    <rect x={758} y={72.7} width={66} height={26.6} fill="#fff" stroke="#262626" strokeWidth={0.6} />
                    <line x1={762} x2={781} y1={79.5} y2={79.5} stroke={BLUE} strokeWidth={1.6} />
                    <text x={784} y={79.5} dy="0.35em" fontSize={9} fill="#000">Erect</text>
                    <line x1={762} x2={781} y1={92.3} y2={92.3} stroke={ORANGE} strokeWidth={1.6} />
                    <text x={784} y={92.3} dy="0.35em" fontSize={9} fill="#000">Slouched</text>
                </g>
            )}
        </g>
    );
}

export default function App() {
    return (
        <svg width={W} height={H}
            style={{ display: 'block', position: 'absolute', left: 0, top: 0, fontFamily: FONT, background: '#fff' }}>
            <rect width={W} height={H} fill="#fff" />
            <text x={420} y={11} textAnchor="middle" fontSize={10} fill="#000">Transfer function (Hexapod/CoP_acc) - y</text>
            {panels.map((p, i) => <Panel key={i} p={p} idx={i} />)}
        </svg>
    );
}
